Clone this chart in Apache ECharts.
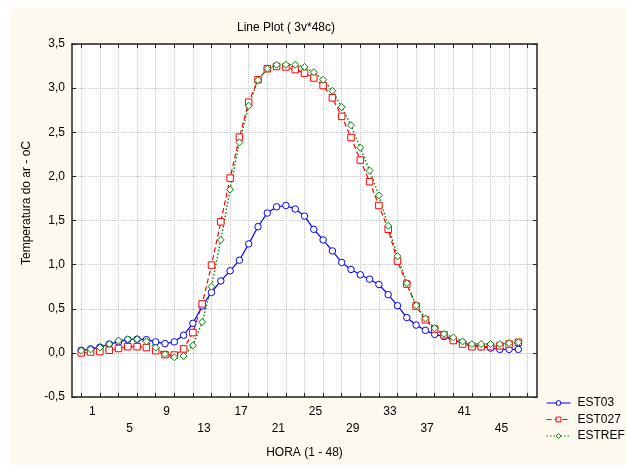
<!DOCTYPE html>
<html>
<head>
<meta charset="utf-8">
<script src="https://cdn.jsdelivr.net/npm/echarts@6/dist/echarts.min.js"></script>
<style>
html,body{margin:0;padding:0;background:#ffffff;}
#chart{width:626px;height:465px;}
</style>
</head>
<body>
<div id="chart"></div>
<script>
// Hours 1..48
var hours = [];
for (var h = 1; h <= 48; h++) hours.push(h);

var est03 = [0.03,0.045,0.065,0.10,0.125,0.15,0.155,0.15,0.125,0.105,0.125,0.20,0.335,0.53,0.685,0.815,0.93,1.05,1.235,1.43,1.585,1.655,1.67,1.63,1.55,1.40,1.28,1.155,1.025,0.945,0.885,0.835,0.775,0.66,0.535,0.40,0.315,0.255,0.21,0.185,0.145,0.115,0.085,0.07,0.055,0.04,0.04,0.04];
var est027 = [0.00,0.01,0.015,0.03,0.05,0.07,0.07,0.06,0.025,-0.02,-0.025,0.045,0.23,0.555,0.995,1.485,1.98,2.445,2.84,3.095,3.22,3.245,3.24,3.21,3.17,3.115,3.03,2.89,2.68,2.44,2.185,1.94,1.67,1.40,1.04,0.78,0.53,0.375,0.27,0.205,0.14,0.10,0.07,0.07,0.07,0.08,0.10,0.12];
var estref = [0.025,0.04,0.06,0.10,0.14,0.155,0.155,0.13,0.06,-0.015,-0.05,-0.035,0.085,0.35,0.75,1.28,1.85,2.385,2.80,3.09,3.22,3.265,3.265,3.265,3.24,3.18,3.095,2.97,2.785,2.58,2.325,2.065,1.785,1.44,1.095,0.79,0.54,0.39,0.28,0.215,0.175,0.13,0.10,0.10,0.10,0.10,0.11,0.12];

var seriesNames = ['EST03', 'EST027', 'ESTREF'];

// axis categories 0..50 (frame spans hour 0 to hour 50)
var cats = ['0'].concat(hours.map(String)).concat(['49', '50']);
function pad(arr) { return [null].concat(arr).concat([null, null]); }

var FONT = 'Liberation Sans, Arial, sans-serif';
var chart = echarts.init(document.getElementById('chart'), null, {renderer: 'canvas'});

function tickInt(i) { return i % 2 === 1; }

var option = {
  backgroundColor: '#ffffff',
  animation: false,
  textStyle: {fontFamily: FONT},
  graphic: [
    {type: 'rect', z: -10, shape: {x: 10, y: 7, width: 616, height: 458}, style: {fill: '#FDF9EE'}},
    {type: 'text', x: 27, y: 203, rotation: Math.PI / 2,
     style: {text: 'Temperatura do ar - oC', font: '12px ' + FONT, fill: '#000', align: 'center', verticalAlign: 'middle'}}
  ],
  title: {
    text: 'Line Plot ( 3v*48c)',
    left: 281, top: 17, textAlign: 'center',
    textStyle: {fontSize: 12, fontWeight: 'normal', color: '#000', fontFamily: FONT}
  },
  legend: {
    orient: 'vertical',
    left: 546, top: 397, padding: 0,
    itemWidth: 24, itemHeight: 6, itemGap: 4.5,
    textStyle: {fontSize: 12, color: '#000', fontFamily: FONT, padding: [0, 0, 0, 2]},
    lineStyle: {width: 1},
    itemStyle: {borderWidth: 1},
    data: seriesNames
  },
  grid: {left: 72, right: 89, top: 44, bottom: 68, backgroundColor: '#ffffff', show: true, borderWidth: 0},
  xAxis: [
    {
      type: 'category', data: cats, boundaryGap: false, position: 'bottom',
      name: 'HORA (1 - 48)', nameLocation: 'middle', nameGap: 50,
      nameTextStyle: {fontSize: 12, color: '#000', fontFamily: FONT},
      axisLine: {onZero: false, lineStyle: {color: '#222', width: 1.5}},
      axisTick: {inside: true, length: 4, interval: tickInt, lineStyle: {color: '#222'}},
      axisLabel: {
        interval: function (i) { return i % 4 === 1 && i <= 48; },
        formatter: function (v, i) { return ((i - 1) / 4) % 2 === 1 ? '\n' + v : v; },
        fontSize: 12, color: '#000', lineHeight: 16.5, margin: 6.5, padding: [0, 0, 0, 22],
        fontFamily: FONT
      },
      splitLine: {show: true, interval: tickInt, lineStyle: {color: '#c4c4c4', type: 'dotted', width: 1}}
    },
    {
      type: 'category', data: cats, boundaryGap: false, position: 'top',
      axisLine: {onZero: false, lineStyle: {color: '#222', width: 1.5}},
      axisTick: {inside: true, length: 4, interval: tickInt, lineStyle: {color: '#222'}},
      axisLabel: {show: false},
      splitLine: {show: false}
    }
  ],
  yAxis: [
    {
      type: 'value', min: -0.5, max: 3.5, interval: 0.5, position: 'left',
      axisLine: {show: true, onZero: false, lineStyle: {color: '#222', width: 1.5}},
      axisTick: {show: true, inside: true, length: 4, lineStyle: {color: '#222'}},
      axisLabel: {fontSize: 12, color: '#000', margin: 7, fontFamily: FONT,
        formatter: function (v) { return v.toFixed(1).replace('.', ','); }},
      splitLine: {show: true, lineStyle: {color: '#c4c4c4', type: 'dotted', width: 1}}
    },
    {
      type: 'value', min: -0.5, max: 3.5, interval: 0.5, position: 'right',
      axisLine: {show: true, onZero: false, lineStyle: {color: '#222', width: 1.5}},
      axisTick: {show: true, inside: true, length: 4, lineStyle: {color: '#222'}},
      axisLabel: {show: false},
      splitLine: {show: false}
    }
  ],
  series: [
    {
      name: seriesNames[0], type: 'line', data: pad(est03),
      symbol: 'circle', symbolSize: 6.5, showSymbol: true, showAllSymbol: true,
      lineStyle: {color: '#0000FF', width: 1.2, type: 'solid'},
      itemStyle: {color: '#ffffff', borderColor: '#0000FF', borderWidth: 1},
      emphasis: {disabled: true}
    },
    {
      name: seriesNames[1], type: 'line', data: pad(est027),
      symbol: 'rect', symbolSize: 6.5, showSymbol: true, showAllSymbol: true,
      lineStyle: {color: '#FF0000', width: 1.2, type: [5, 3]},
      itemStyle: {color: '#ffffff', borderColor: '#FF0000', borderWidth: 1},
      emphasis: {disabled: true}
    },
    {
      name: seriesNames[2], type: 'line', data: pad(estref),
      symbol: 'diamond', symbolSize: 7, showSymbol: true, showAllSymbol: true,
      lineStyle: {color: '#008000', width: 1.4, type: [1.5, 2]},
      itemStyle: {color: '#ffffff', borderColor: '#008000', borderWidth: 1},
      emphasis: {disabled: true}
    }
  ]
};
chart.setOption(option);
</script>
</body>
</html>
